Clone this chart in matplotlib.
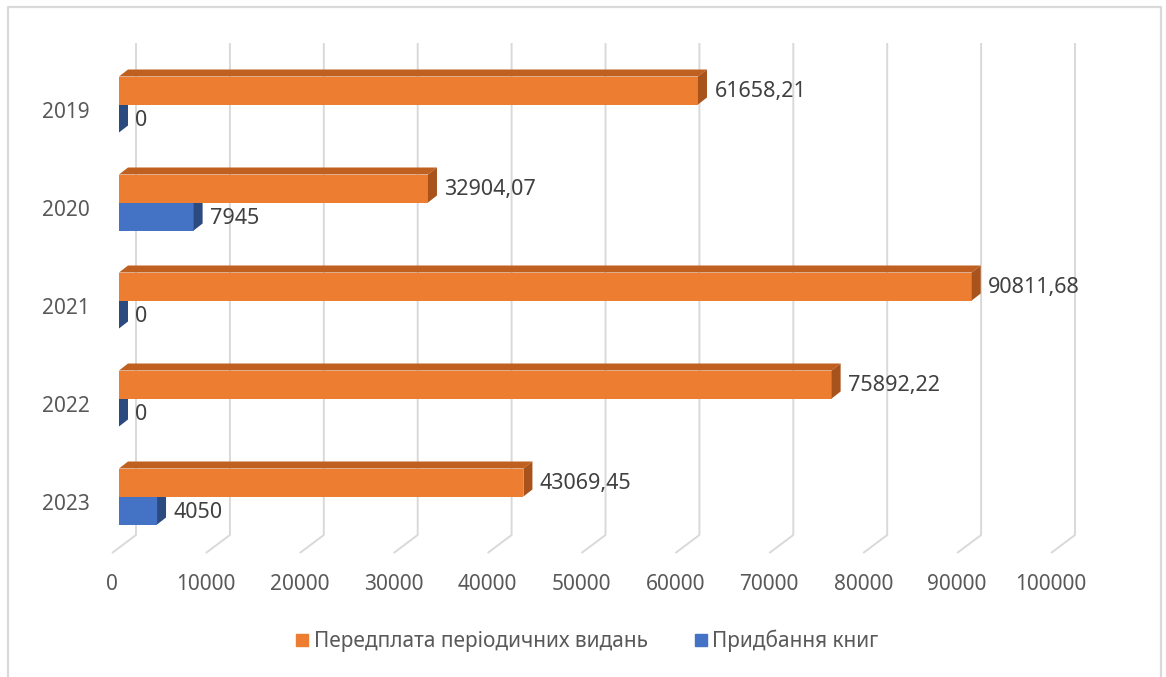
import numpy as np
import matplotlib.pyplot as plt
from matplotlib.patches import Polygon
import matplotlib.lines as mlines

plt.rcParams['font.family'] = ['Noto Sans', 'DejaVu Sans']

# ===== DATA =====
years = ['2019', '2020', '2021', '2022', '2023']
periodicals = [61658.21, 32904.07, 90811.68, 75892.22, 43069.45]
books = [0, 7945, 0, 0, 4050]
series_names = ['Передплата періодичних видань', 'Придбання книг']
x_ticks = [0, 10000, 20000, 30000, 40000, 50000, 60000, 70000, 80000, 90000, 100000]

# ===== COLOURS =====
orange, orange_top, orange_side = '#ED7D31', '#BF5F20', '#A8531B'
blue, blue_side = '#4472C4', '#2B4A80'
grid_c = '#D9D9D9'
text_c = '#595959'

W, H = 1166, 677
fig = plt.figure(figsize=(W / 100, H / 100), dpi=100)
ax = fig.add_axes([0, 0, 1, 1])
ax.set_axis_off()

# pixel layout of the plot (front plane)
x0_px, px_per_unit = 119, 939 / 100000
y0_px, px_per_cat = 104.5, 98
ax.set_xlim(-x0_px / px_per_unit, (W - x0_px) / px_per_unit)
ax.set_ylim((H - y0_px) / px_per_cat, -y0_px / px_per_cat)

ux = 1 / px_per_unit       # data units per pixel (x)
uy = 1 / px_per_cat        # data units per pixel (y)

bar_h = 28 * uy
dx, dy = 9 * ux, 7 * uy    # depth of bars

# ===== GRIDLINES (back wall + floor) =====
gx, gy_top, gy_bot = 17 * ux, (43 - y0_px) * uy, (535 - y0_px) * uy
fx, fy = -7 * ux, (553 - y0_px) * uy
for t in x_ticks:
    ax.plot([t + gx, t + gx, t + fx], [gy_top, gy_bot, fy], color=grid_c, lw=1.4, zorder=1,
            solid_capstyle='butt')
    ax.text(t + fx, (584 - y0_px) * uy, f'{t}', ha='center', va='center',
            fontsize=15, color=text_c)

# ===== BARS =====
pos = np.arange(len(years))
ax.barh(pos + bar_h / 2, books, height=bar_h, left=0, color=blue, zorder=3)
ax.barh(pos - bar_h / 2, periodicals, height=bar_h, left=0, color=orange, zorder=5)

for i, (p, b) in enumerate(zip(periodicals, books)):
    # blue side face
    top, bot = i, i + bar_h
    ax.add_patch(Polygon([(b, top), (b + dx, top - dy), (b + dx, bot - dy), (b, bot)],
                         closed=True, color=blue_side, lw=0, zorder=4))
    # orange top + side
    top, bot = i - bar_h, i
    ax.add_patch(Polygon([(0, top), (p, top), (p + dx, top - dy), (dx, top - dy)],
                         closed=True, color=orange_top, lw=0, zorder=5))
    ax.add_patch(Polygon([(p, top), (p + dx, top - dy), (p + dx, bot - dy), (p, bot)],
                         closed=True, color=orange_side, lw=0, zorder=5))

    lab_p = f'{p:.2f}'.rstrip('0').rstrip('.').replace('.', ',')
    lab_b = f'{b:.2f}'.rstrip('0').rstrip('.').replace('.', ',')
    ax.text(p + 16.5 * ux, i - bar_h / 2 + 1.5 * uy, lab_p, ha='left', va='center',
            fontsize=15.5, color='#404040', zorder=6)
    ax.text(b + 16.5 * ux, i + bar_h / 2 + 2.5 * uy, lab_b, ha='left', va='center',
            fontsize=15.5, color='#404040', zorder=6)

    ax.text(-29 * ux, i + 8.5 * uy, years[i], ha='right', va='center',
            fontsize=15, color=text_c)

# ===== LEGEND =====
h1 = mlines.Line2D([], [], color=orange, marker='s', ls='', markersize=8)
h2 = mlines.Line2D([], [], color=blue, marker='s', ls='', markersize=8)
fig.legend([h1, h2], series_names, loc='center', bbox_to_anchor=(588 / W, 1 - 641 / H),
           ncol=2, frameon=False, fontsize=15, labelcolor=text_c, handlelength=0.5,
           handletextpad=0.3, columnspacing=2.3, borderpad=0)

# ===== FRAME =====
fig.add_artist(mlines.Line2D([8 / W, 8 / W, 1161 / W, 1161 / W], [0, 1 - 7 / H, 1 - 7 / H, 0],
                             color=grid_c, lw=1.6))

fig.savefig('out.png', dpi=100)
